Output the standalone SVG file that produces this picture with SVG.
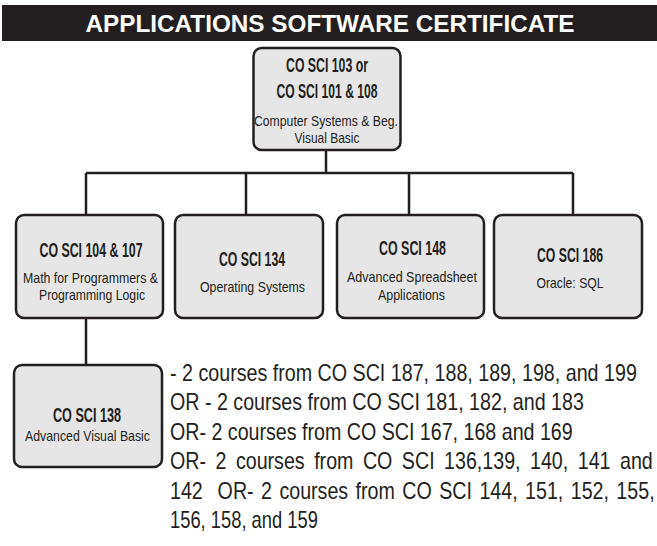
<svg xmlns="http://www.w3.org/2000/svg" width="657" height="546" viewBox="0 0 657 546">
<style>
.box{fill:#e6e6e6;stroke:#231f20;stroke-width:2.5}
.con{fill:none;stroke:#231f20;stroke-width:2.5}
.b{font-family:"Liberation Sans Narrow","Liberation Sans",Arial,sans-serif;font-weight:bold;font-size:20px;fill:#231f20;text-anchor:middle}
.r{font-family:"Liberation Sans Narrow","Liberation Sans",Arial,sans-serif;font-size:15px;fill:#231f20;text-anchor:middle}
.t{font-family:"Liberation Sans",Arial,sans-serif;font-size:23px;fill:#231f20;white-space:pre}
.title{font-family:"Liberation Sans",Arial,sans-serif;font-weight:bold;font-size:24px;fill:#ffffff;text-anchor:middle}
</style>
<rect x="2" y="5" width="655" height="36" fill="#231f20"/>
<text class="title" x="330" y="32" textLength="489" lengthAdjust="spacingAndGlyphs">APPLICATIONS SOFTWARE CERTIFICATE</text>
<g id="connectors">
<path class="con" d="M326,150 V173 M86,173 H573 M86,173 V215 M246,173 V215 M409,173 V215 M573,173 V215 M86,318 V365"/>
</g>
<g id="n103">
<rect class="box" x="253.5" y="48" width="147" height="102" rx="8"/>
<text class="b" x="327" y="72" textLength="82" lengthAdjust="spacingAndGlyphs">CO SCI 103 or</text>
<text class="b" x="327" y="98" textLength="101" lengthAdjust="spacingAndGlyphs">CO SCI 101 &amp; 108</text>
<text class="r" x="326" y="126" textLength="144" lengthAdjust="spacingAndGlyphs">Computer Systems &amp; Beg.</text>
<text class="r" x="327" y="143" textLength="65" lengthAdjust="spacingAndGlyphs">Visual Basic</text>
</g>
<g id="n104">
<rect class="box" x="16" y="215" width="147" height="103" rx="8"/>
<text class="b" x="91" y="257" textLength="103" lengthAdjust="spacingAndGlyphs">CO SCI 104 &amp; 107</text>
<text class="r" x="90.5" y="283" textLength="135" lengthAdjust="spacingAndGlyphs">Math for Programmers &amp;</text>
<text class="r" x="92" y="300" textLength="106" lengthAdjust="spacingAndGlyphs">Programming Logic</text>
</g>
<g id="n134">
<rect class="box" x="175" y="215" width="148" height="103" rx="8"/>
<text class="b" x="252" y="266" textLength="66" lengthAdjust="spacingAndGlyphs">CO SCI 134</text>
<text class="r" x="252.5" y="292" textLength="105" lengthAdjust="spacingAndGlyphs">Operating Systems</text>
</g>
<g id="n148">
<rect class="box" x="337" y="215" width="147" height="103" rx="8"/>
<text class="b" x="412.5" y="255" textLength="67" lengthAdjust="spacingAndGlyphs">CO SCI 148</text>
<text class="r" x="412" y="282" textLength="130" lengthAdjust="spacingAndGlyphs">Advanced Spreadsheet</text>
<text class="r" x="411.5" y="300" textLength="67" lengthAdjust="spacingAndGlyphs">Applications</text>
</g>
<g id="n186">
<rect class="box" x="494" y="215" width="148" height="103" rx="8"/>
<text class="b" x="570" y="262" textLength="66" lengthAdjust="spacingAndGlyphs">CO SCI 186</text>
<text class="r" x="570" y="288" textLength="67" lengthAdjust="spacingAndGlyphs">Oracle: SQL</text>
</g>
<g id="n138">
<rect class="box" x="14" y="365" width="148" height="102" rx="8"/>
<text class="b" x="87" y="422" textLength="68" lengthAdjust="spacingAndGlyphs">CO SCI 138</text>
<text class="r" x="87.5" y="441" textLength="125" lengthAdjust="spacingAndGlyphs">Advanced Visual Basic</text>
</g>
<g id="notes" transform="translate(170,0) scale(0.855,1)">
<text class="t" x="0" y="381" textLength="546" lengthAdjust="spacingAndGlyphs">- 2 courses from CO SCI 187, 188, 189, 198, and 199</text>
<text class="t" x="0" y="410.5" textLength="484" lengthAdjust="spacingAndGlyphs">OR - 2 courses from CO SCI 181, 182, and 183</text>
<text class="t" x="0" y="440" textLength="471" lengthAdjust="spacingAndGlyphs">OR- 2 courses from CO SCI 167, 168 and 169</text>
<text class="t" x="0" y="469.5" word-spacing="4.7">OR- 2 courses from CO SCI 136,139, 140, 141 and</text>
<text class="t" x="0" y="499" word-spacing="2.3">142  OR- 2 courses from CO SCI 144, 151, 152, 155,</text>
<text class="t" x="0" y="528.5" textLength="173" lengthAdjust="spacingAndGlyphs">156, 158, and 159</text>
</g>
</svg>
